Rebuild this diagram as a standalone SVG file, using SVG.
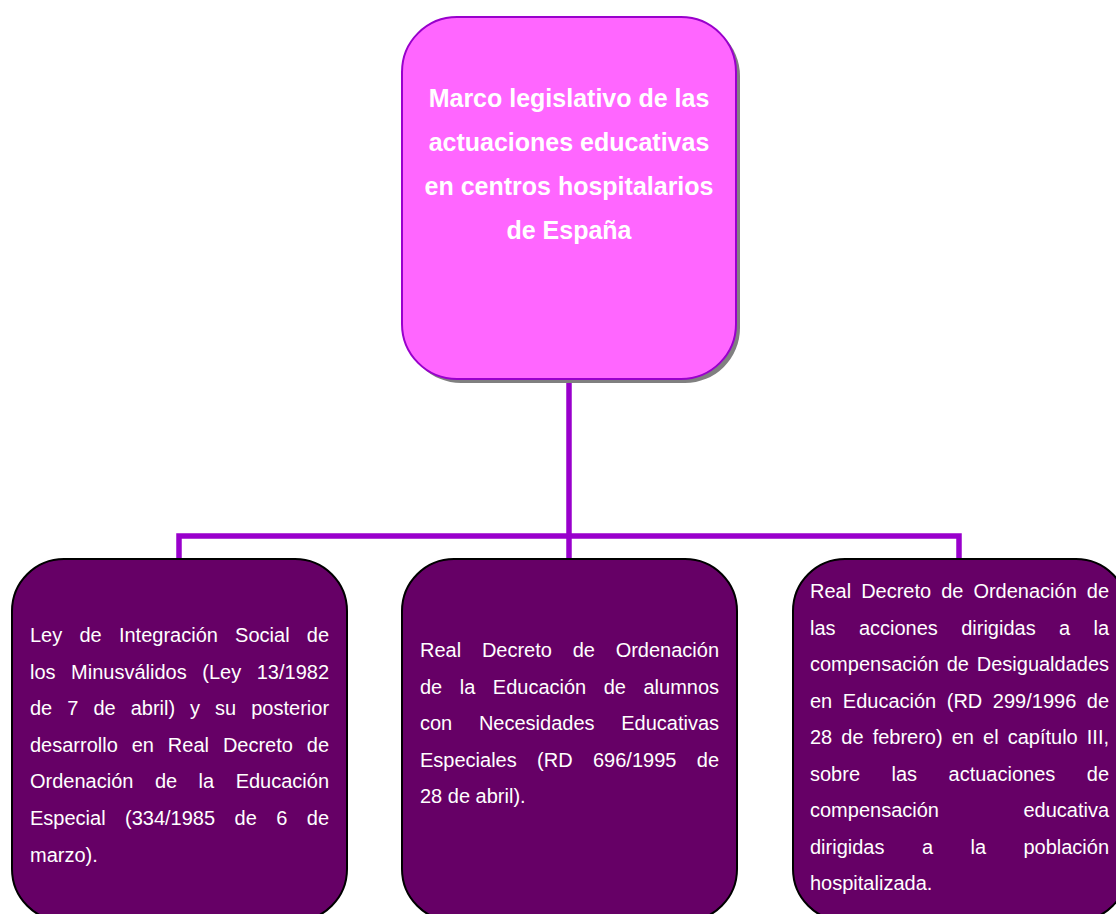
<svg xmlns="http://www.w3.org/2000/svg" width="1116" height="914" viewBox="0 0 1116 914">
<style>
.title{font-family:"Liberation Sans",Arial,sans-serif;font-size:25px;font-weight:bold;fill:#ffffff;text-anchor:middle}
.body{font-family:"Liberation Sans",Arial,sans-serif;font-size:20px;fill:#ffffff}
.leaf{fill:#660066;stroke:#000000;stroke-width:2}
.conn{fill:none;stroke:#9900cc;stroke-width:5.5}
</style>
<rect width="1116" height="914" fill="#ffffff"/>
<g id="connectors">
<path class="conn" d="M569 380 V536"/>
<path class="conn" d="M179 559 V536 H959 V559"/>
<path class="conn" d="M569 536 V559"/>
</g>
<g id="root">
<rect x="406" y="21" width="334" height="362" rx="55" ry="55" fill="#808080"/>
<rect x="402" y="17" width="334" height="362" rx="55" ry="55" fill="#ff66ff" stroke="#9900cc" stroke-width="2"/>
<text class="title" x="569" y="107">Marco legislativo de las</text>
<text class="title" x="569" y="151">actuaciones educativas</text>
<text class="title" x="569" y="195">en centros hospitalarios</text>
<text class="title" x="569" y="239">de España</text>
</g>
<g id="leaf1">
<rect class="leaf" x="12" y="559" width="335" height="362" rx="52" ry="52"/>
<text class="body" x="30" y="642" word-spacing="11.66">Ley de Integración Social de</text>
<text class="body" x="30" y="678.6" word-spacing="10">los Minusválidos (Ley 13/1982</text>
<text class="body" x="30" y="715.2" word-spacing="9.45">de 7 de abril) y su posterior</text>
<text class="body" x="30" y="751.8" word-spacing="8.34">desarrollo en Real Decreto de</text>
<text class="body" x="30" y="788.4" word-spacing="15.92">Ordenación de la Educación</text>
<text class="body" x="30" y="825" word-spacing="13.88">Especial (334/1985 de 6 de</text>
<text class="body" x="30" y="861.6">marzo).</text>
</g>
<g id="leaf2">
<rect class="leaf" x="402" y="559" width="335" height="362" rx="52" ry="52"/>
<text class="body" x="420" y="657" word-spacing="15.19">Real Decreto de Ordenación</text>
<text class="body" x="420" y="693.5" word-spacing="11.94">de la Educación de alumnos</text>
<text class="body" x="420" y="730" word-spacing="21.11">con Necesidades Educativas</text>
<text class="body" x="420" y="766.5" word-spacing="14.81">Especiales (RD 696/1995 de</text>
<text class="body" x="420" y="803">28 de abril).</text>
</g>
<g id="leaf3">
<rect class="leaf" x="793" y="559" width="335" height="362" rx="52" ry="52"/>
<text class="body" x="810" y="598" word-spacing="4.44">Real Decreto de Ordenación de</text>
<text class="body" x="810" y="634.5" word-spacing="17.79">las acciones dirigidas a la</text>
<text class="body" x="810" y="671" word-spacing="2.21">compensación de Desigualdades</text>
<text class="body" x="810" y="707.5" word-spacing="4.99">en Educación (RD 299/1996 de</text>
<text class="body" x="810" y="744" word-spacing="3.51">28 de febrero) en el capítulo III,</text>
<text class="body" x="810" y="780.5" word-spacing="25.93">sobre las actuaciones de</text>
<text class="body" x="810" y="817" word-spacing="78.9">compensación educativa</text>
<text class="body" x="810" y="853.5" word-spacing="31.86">dirigidas a la población</text>
<text class="body" x="810" y="890">hospitalizada.</text>
</g>
</svg>
